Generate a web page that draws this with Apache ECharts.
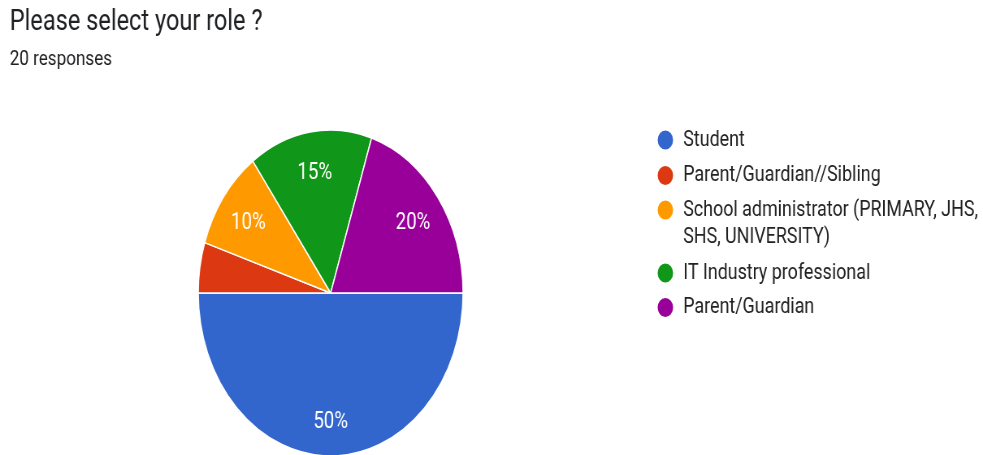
<!DOCTYPE html>
<html>
<head>
<meta charset="utf-8">
<script src="https://cdn.jsdelivr.net/npm/echarts@6/dist/echarts.min.js"></script>
<style>
  html, body { margin: 0; padding: 0; background: #fff; overflow: hidden; width: 983px; height: 455px; }
  /* chart is laid out on a wider canvas, then narrowed horizontally */
  #chart { width: 1210px; height: 455px; transform: scaleX(0.8124); transform-origin: 0 0; }
</style>
</head>
<body>
<div id="chart"></div>
<script>
// Survey answers
const titleText = 'Please select your role ?';
const categories = [
  'Student',
  'Parent/Guardian//Sibling',
  'School administrator (PRIMARY, JHS, SHS, UNIVERSITY)',
  'IT Industry professional',
  'Parent/Guardian'
];
const responses = [10, 1, 2, 3, 4];
const sliceColors = ['#3366cc', '#dc3912', '#ff9900', '#109618', '#990099'];

const totalResponses = responses.reduce((a, b) => a + b, 0);
const fontFamily = 'Roboto, "Noto Sans", sans-serif';

// pie geometry
const pieCenter = [407, 293];
const pieRadius = 163;

// legend layout
const legendFontSize = 22;
const legendLine = 27;
const legendIcon = 21;
const legendLeft = 807.5;
const legendMaxText = 380;
const legendRowCenters = [140, 175.5, 210, 273, 307.5];

const measureCtx = document.createElement('canvas').getContext('2d');
measureCtx.font = legendFontSize + 'px Roboto';
function wrapWords(text, maxWidth) {
  const words = text.split(' ');
  const lines = [];
  let cur = '';
  words.forEach(w => {
    const trial = cur ? cur + ' ' + w : w;
    if (cur && measureCtx.measureText(trial).width > maxWidth) {
      lines.push(cur);
      cur = w;
    } else {
      cur = trial;
    }
  });
  if (cur) lines.push(cur);
  return lines;
}

// one legend per entry so a wrapped entry keeps its marker on the first line
const legends = categories.map((name, i) => {
  const lines = wrapWords(name, legendMaxText);
  const n = lines.length;
  // blank lines above balance the continuation lines below
  const shown = new Array(n - 1).fill('').concat(lines).join('\n');
  return {
    data: [name],
    orient: 'vertical',
    left: legendLeft,
    top: legendRowCenters[i] - ((2 * n - 1) * legendLine) / 2,
    padding: 0,
    icon: 'circle',
    itemWidth: legendIcon,
    itemHeight: legendIcon,
    selectedMode: false,
    formatter: () => shown,
    textStyle: {
      fontSize: legendFontSize,
      fontFamily: fontFamily,
      color: '#222',
      lineHeight: legendLine,
      padding: [0, 0, 0, 6.5]
    }
  };
});

const pieData = categories.map((name, i) => ({
  name: name,
  value: responses[i],
  itemStyle: { color: sliceColors[i] }
}));

const chart = echarts.init(document.getElementById('chart'), null, { renderer: 'canvas' });
chart.setOption({
  animation: false,
  backgroundColor: '#fff',
  title: {
    text: titleText,
    subtext: totalResponses + ' responses',
    left: 12,
    top: 8,
    padding: 0,
    itemGap: 12.7,
    textStyle: { fontSize: 29, fontWeight: 'normal', color: '#202124', fontFamily: fontFamily },
    subtextStyle: { fontSize: 21, color: '#202124', fontFamily: fontFamily }
  },
  legend: legends,
  series: [
    {
      type: 'pie',
      name: 'Role',
      center: pieCenter,
      radius: pieRadius,
      startAngle: 0,
      clockwise: true,
      silent: true,
      avoidLabelOverlap: false,
      data: pieData,
      itemStyle: { borderColor: '#fff', borderWidth: 1.5 },
      label: { show: false },
      labelLine: { show: false },
      emphasis: { disabled: true }
    },
    {
      // transparent ring carrying the percentage labels
      type: 'pie',
      name: 'Percent',
      center: pieCenter,
      radius: [pieRadius * 0.5, pieRadius],
      startAngle: 0,
      clockwise: true,
      silent: true,
      avoidLabelOverlap: false,
      data: categories.map((name, i) => ({ name: name, value: responses[i] })),
      itemStyle: { color: 'transparent', borderWidth: 0 },
      label: {
        show: true,
        position: 'inside',
        offset: [0, 4],
        formatter: p => (p.percent >= 7.5 ? Math.round(p.percent) + '%' : ''),
        color: '#fff',
        fontSize: 23,
        fontFamily: fontFamily
      },
      labelLine: { show: false },
      emphasis: { disabled: true }
    }
  ]
});
</script>
</body>
</html>
